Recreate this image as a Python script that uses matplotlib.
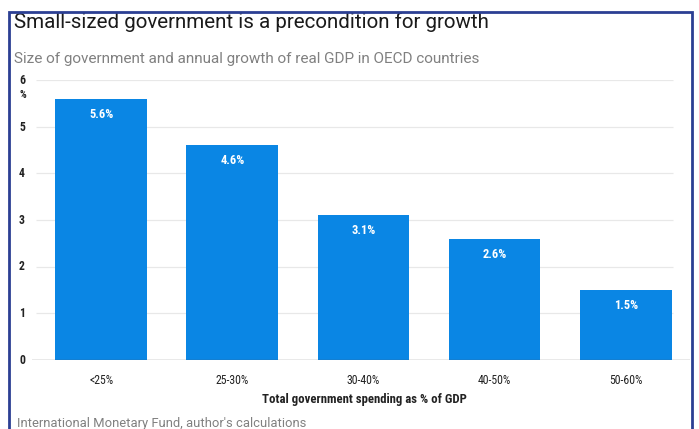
import matplotlib
matplotlib.use("Agg")
import matplotlib.pyplot as plt
from matplotlib.patches import Rectangle

categories = ["<25%", "25-30%", "30-40%", "40-50%", "50-60%"]
growth = [5.6, 4.6, 3.1, 2.6, 1.5]
labels = ["5.6%", "4.6%", "3.1%", "2.6%", "1.5%"]
yticks = [0, 1, 2, 3, 4, 5, 6]

narrow = ["Roboto Condensed", "Roboto", "DejaVu Sans"]
regular = ["Roboto", "DejaVu Sans"]
bar_color = "#0a86e4"

fig = plt.figure(figsize=(6.99, 4.29), dpi=100)
W, H = 699, 429

def fx(px):
    return px / W

def fy(py):
    return 1 - py / H

ax = fig.add_axes([fx(32), fy(360), fx(690) - fx(32), fy(80) - fy(360)])
x = list(range(len(categories)))
ax.bar(x, growth, width=0.70, color=bar_color, zorder=2)
ax.set_xlim(-0.527, 4.49)
ax.set_ylim(0, 6)

# gridlines
for t in yticks[1:]:
    ax.hlines(t, -0.50, 4.36, color="#e8e8e8", lw=0.9, zorder=1)
ax.axhline(0, color="#555555", lw=0.9, zorder=3)

for s in ax.spines.values():
    s.set_visible(False)
ax.set_xticks([])
ax.set_yticks([])

for xi, v, lab in zip(x, growth, labels):
    ax.text(xi, v - 0.33, lab, ha="center", va="center", color="white",
            fontsize=9, fontweight="bold", family=narrow, zorder=4)

# y tick labels
for t in yticks:
    ypix = 360 - t * 46.6
    fig.text(fx(19), fy(ypix), str(t), ha="left", va="center",
             fontsize=8.5, fontweight="bold", color="#222222", family=narrow)
fig.text(fx(19), fy(95), "%", ha="left", va="center",
         fontsize=7.5, fontweight="bold", color="#222222", family=narrow)

# category labels
for xi, c in zip(x, categories):
    xd = ax.transData.transform((xi, 0))[0]
    fig.text(xd / W, fy(380), c, ha="center", va="center",
             fontsize=8.5, color="#222222", family=narrow)
fig.text(fx(364), fy(399), "Total government spending as % of GDP",
         ha="center", va="center", fontsize=9.2, fontweight="bold",
         color="#222222", family=narrow)

fig.text(fx(14), fy(22), "Small-sized government is a precondition for growth",
         ha="left", va="center", fontsize=14.8, color="#1a1a1a", family=regular)
fig.text(fx(14), fy(59), "Size of government and annual growth of real GDP in OECD countries",
         ha="left", va="center", fontsize=10.95, color="#808080", family=regular)
fig.text(fx(17), fy(424), "International Monetary Fund, author's calculations",
         ha="left", va="center", fontsize=9.4, color="#808080", family=regular)

fig.patches.append(Rectangle((fx(9), fy(440)), fx(692) - fx(9), fy(12) - fy(440),
                             transform=fig.transFigure, fill=False,
                             edgecolor="#2b3f93", lw=2, zorder=10))

fig.savefig("out.png", dpi=100)
